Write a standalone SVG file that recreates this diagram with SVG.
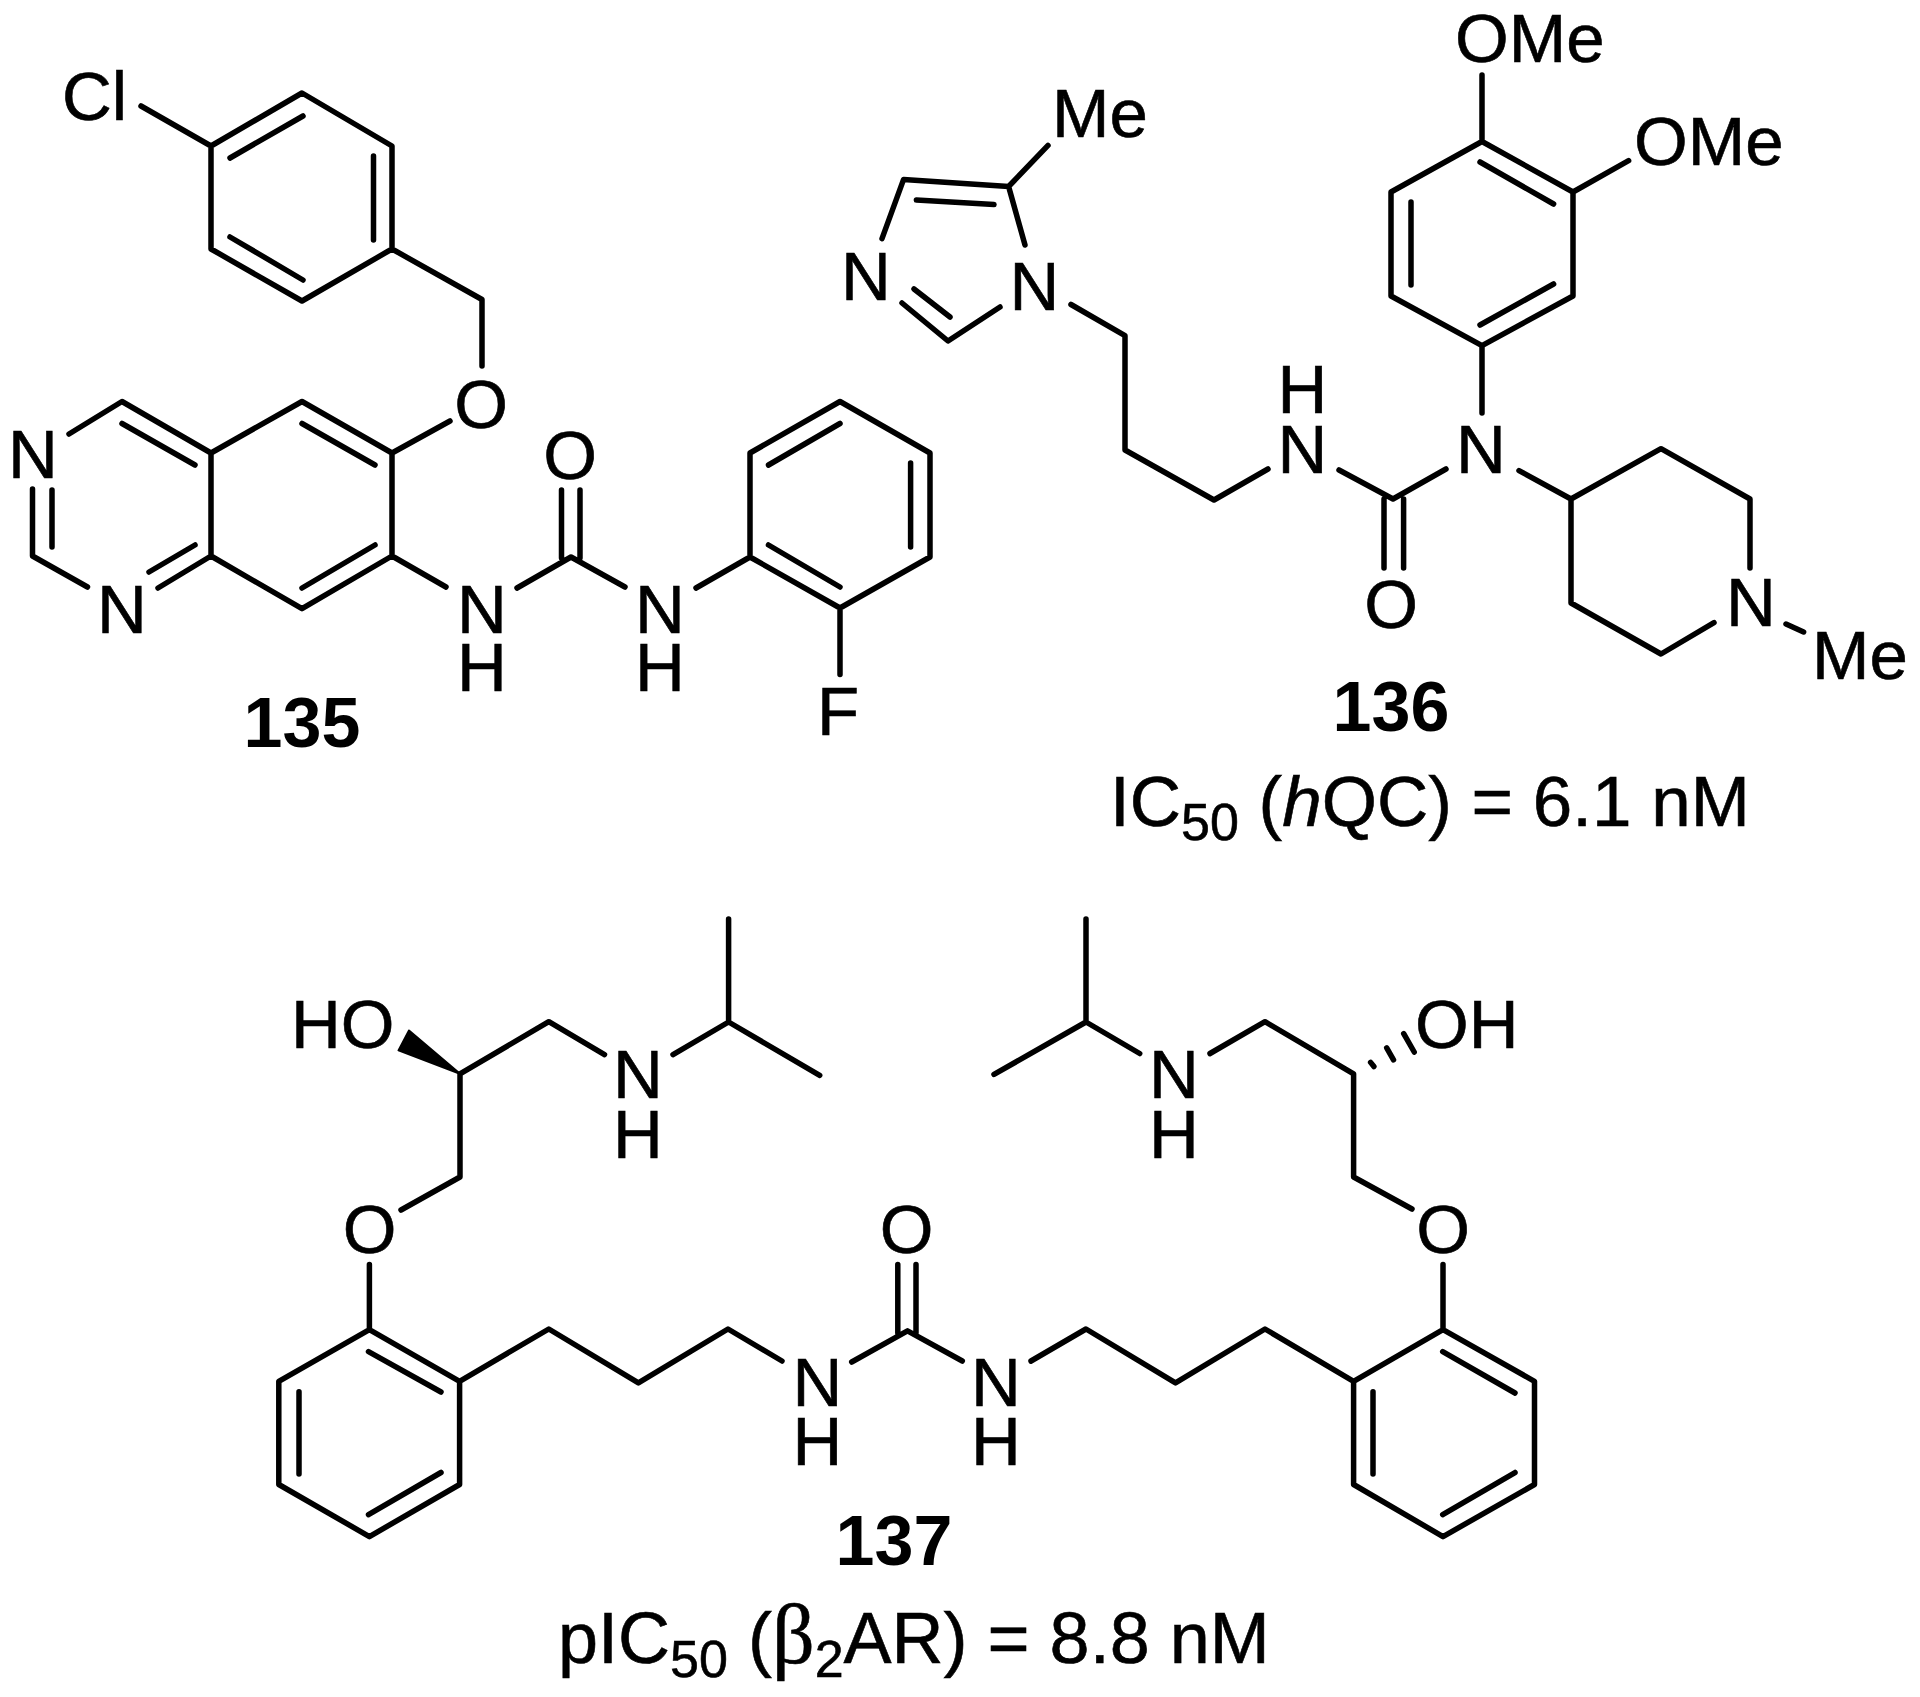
<svg xmlns="http://www.w3.org/2000/svg" width="1920" height="1697" viewBox="0 0 1920 1697">
<style>
.b{fill:none;stroke:#000;stroke-width:5.500;stroke-linecap:round;stroke-linejoin:round}
.t{font-family:"Liberation Sans",Arial,sans-serif;font-size:69px;fill:#000;stroke:#000;stroke-width:.6}
.m{text-anchor:middle}
.n{font-family:"Liberation Sans",Arial,sans-serif;font-size:70px;font-weight:bold;fill:#000;text-anchor:middle}
.s{font-size:52px}
.v{font-size:71px}
.w{font-size:72px}
</style>
<rect width="1920" height="1697" fill="#fff"/>
<g id="compound-135">
<g id="bonds-135"><path class="b" d="M302 93L392 146V249L302 301L211 249V146ZM141 106L211 146M230 158L303 116M373.500 156V240M230 237L303 280M392 249L482 299.500V366M450 421L392 453M302 401.500L392 453V556L302 608.700L211 556V453ZM69 434L122 401.500L211 453M122 423.500L195 465M32.500 489V556L87.500 587M52 490V547M158 588L211 556M149 572L195 545M302 423.500L375 465M302 588L375 545M392 556L446 587M517 588L571 557L625 587M561.500 490V558M580 490V558M696 588L750 557M840 401.500L930 453V557L840 608L750 557V453ZM768.500 465L840 423.500M910.600 463V547M768.500 545L840 587M840 608V674.500"/></g>
<g id="labels-135">
<text class="t" x="62" y="120">Cl</text>
<text class="t m" x="481" y="428">O</text>
<text class="t m" x="33" y="478">N</text>
<text class="t m" x="122" y="633">N</text>
<text class="t m" x="482" y="633">N<tspan x="482" dy="58">H</tspan></text>
<text class="t m" x="570" y="479">O</text>
<text class="t m" x="660" y="633">N<tspan x="660" dy="58">H</tspan></text>
<text class="t m" x="838" y="735">F</text>
<text class="n" x="302" y="747">135</text>
</g>
</g>
<g id="compound-136">
<g id="bonds-136"><path class="b" d="M882 238.600L903.600 179.400L1008.600 186.500L1025 245M916.400 200L994 204.600M1008.600 186.500L1048 145.400M902 303L948 341L1000 307M914 289L950 317M1071 304.500L1125 335.700V450L1214 500L1268 469M1339 470L1393 499L1446 469M1384 499V568M1403.600 499V568M1482 413V345.600L1573 296V192L1482 141.500L1391 192V296L1482 345.600M1480 162L1553.600 204M1411 202V285M1480 325L1553.600 284M1482 141.500V75M1573 192L1628.600 160.700M1519 470.600L1571 499L1661 448.700L1750 499V568M1714 622.600L1661 654L1571 603V499M1786 624L1803.600 632"/></g>
<g id="labels-136">
<text class="t" x="1052" y="137">Me</text>
<text class="t m" x="866" y="300">N</text>
<text class="t m" x="1034.500" y="310">N</text>
<text class="t m" x="1302.500" y="412.500">H<tspan x="1302.500" dy="60.500">N</tspan></text>
<text class="t m" x="1391" y="628">O</text>
<text class="t m" x="1481" y="473">N</text>
<text class="t" x="1455" y="62">OMe</text>
<text class="t" x="1634" y="164.500">OMe</text>
<text class="t m" x="1751" y="626">N</text>
<text class="t" x="1812" y="679">Me</text>
<text class="n" x="1391" y="730.700">136</text>
<text class="t v" x="1110" y="826">IC<tspan class="s" dy="14">50</tspan><tspan dy="-14"> (</tspan><tspan font-style="italic">h</tspan>QC) = 6.1 nM</text>
</g>
</g>
<g id="compound-137">
<g id="bonds-137"><path d="M460 1073.800L409 1030.500L398.500 1050.400Z" fill="#000" stroke="#000" stroke-width="2" stroke-linejoin="round"/>
<path class="b" d="M460 1073.800L548.800 1021.700L604.500 1054.600M673 1054.600L728.600 1022V919M728.600 1022L819.700 1075.400M460 1073.800V1177L401 1210M369.400 1264.600V1329.700M369.400 1329.700L459.600 1381.300V1484.500L369.400 1536.600L278.800 1484.500V1381.300ZM368.500 1351.600L441 1392M299 1391.700V1474M368.500 1514.700L441 1472.500M459.600 1381.300L548.800 1329L638.400 1382.900L728 1329L782 1361M851.700 1362L907.500 1330.800L962.300 1361M897.800 1264.600V1333M916 1264.600V1333M1031 1361L1086 1329L1175.500 1382.900L1265 1329L1353.600 1381.300L1443 1329.700L1534.500 1381.300V1484.500L1443 1536.600L1353.600 1484.500V1381.300M1442.700 1351.600L1515 1393M1373 1391.700V1474M1442.700 1514.700L1515 1472.500M1443 1329.700V1264.600M1412 1209L1353.600 1177V1073.800L1265 1021.700L1210 1053.500M1139.700 1053.500L1086 1022V919M1086 1022L994 1074.400M1370.600 1062.400L1373.900 1066.500M1386.700 1047.800L1393.500 1059.800M1403.700 1033.700L1414.200 1052"/></g>
<g id="labels-137">
<text class="t" x="291" y="1048">HO</text>
<text class="t m" x="638" y="1097.800">N<tspan x="638" dy="59.900">H</tspan></text>
<text class="t m" x="369.500" y="1252.600">O</text>
<text class="t m" x="817.500" y="1406.300">N<tspan x="817.500" dy="58.400">H</tspan></text>
<text class="t m" x="906.500" y="1252.600">O</text>
<text class="t m" x="996" y="1406.300">N<tspan x="996" dy="58.400">H</tspan></text>
<text class="t m" x="1443" y="1252.600">O</text>
<text class="t m" x="1174" y="1097.800">N<tspan x="1174" dy="59.900">H</tspan></text>
<text class="t" x="1415" y="1048">OH</text>
<text class="n" x="894" y="1565">137</text>
<text class="t w" x="558" y="1662.700">pIC<tspan class="s" dy="14">50</tspan><tspan dy="-14"> (</tspan><tspan font-family="'Liberation Serif',serif" font-size="84">β</tspan><tspan class="s" dy="14">2</tspan><tspan dy="-14">AR) = 8.8 nM</tspan></text>
</g>
</g>
</svg>
